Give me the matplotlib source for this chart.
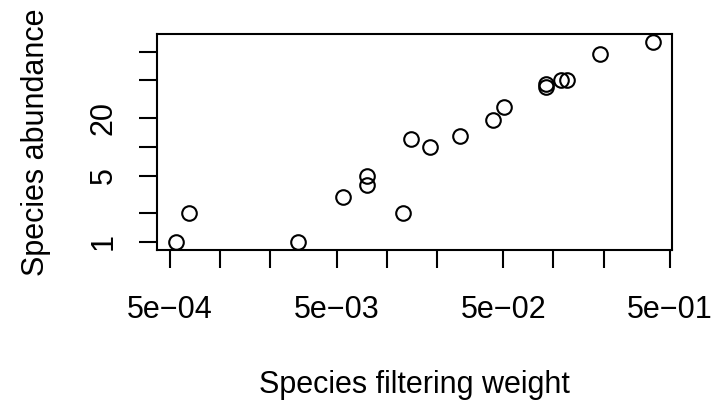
import numpy as np
import matplotlib
matplotlib.use("Agg")
import matplotlib.pyplot as plt

# data (log-log scatter)
filter_weight = [5.43e-4, 6.53e-4, 2.94e-3, 5.43e-3, 7.57e-3, 7.57e-3,
                 0.01256, 0.0139, 0.01816, 0.0275, 0.0432, 0.0505,
                 0.0902, 0.0902, 0.111, 0.120, 0.190, 0.396]
abundance = [1, 2, 1, 3, 5, 4,
             2, 12, 10, 13, 19, 26.6,
             45.7, 42.5, 50.7, 50.7, 95, 127]

x_ticks = [5e-4, 1e-3, 2e-3, 5e-3, 1e-2, 2e-2, 5e-2, 0.1, 0.2, 0.5]
x_labels = ["5e\u221204", "", "", "5e\u221203", "", "", "5e\u221202", "", "", "5e\u221201"]
y_ticks = [1, 2, 5, 10, 20, 50, 100]
y_labels = ["1", "", "5", "", "20", "", ""]

plt.rcParams["font.family"] = ["Liberation Sans", "DejaVu Sans"]

fig = plt.figure(figsize=(7.13, 4.0), dpi=100)
ax = fig.add_axes([157 / 713, 1 - 250 / 400, 515 / 713, 216 / 400])

ax.plot(filter_weight, abundance, linestyle="none", marker="o",
        markersize=10.5, markerfacecolor="none", markeredgecolor="black",
        markeredgewidth=1.5)

ax.set_xscale("log")
ax.set_yscale("log")


# R style 4% extension of the log range
def r_lims(vals):
    lo, hi = np.log10(min(vals)), np.log10(max(vals))
    ext = 0.04 * (hi - lo)
    return 10 ** (lo - ext), 10 ** (hi + ext)


ax.set_xlim(*r_lims(filter_weight))
ax.set_ylim(*r_lims(abundance))

ax.xaxis.set_minor_locator(matplotlib.ticker.NullLocator())
ax.yaxis.set_minor_locator(matplotlib.ticker.NullLocator())
ax.set_xticks(x_ticks)
ax.set_xticklabels(x_labels)
ax.set_yticks(y_ticks)
ax.set_yticklabels(y_labels, rotation=90, va="center")

ax.tick_params(axis="both", length=13.2, width=1.5, labelsize=22)
ax.tick_params(axis="x", pad=19)
ax.tick_params(axis="y", pad=14.5)
for s in ax.spines.values():
    s.set_linewidth(1.5)

ax.set_xlabel("Species filtering weight", fontsize=22)
ax.set_ylabel("Species abundance", fontsize=22)
ax.xaxis.set_label_coords(0.5, -0.555)
ax.yaxis.set_label_coords(-0.205, 0.5)

fig.savefig("out.png", dpi=100)
